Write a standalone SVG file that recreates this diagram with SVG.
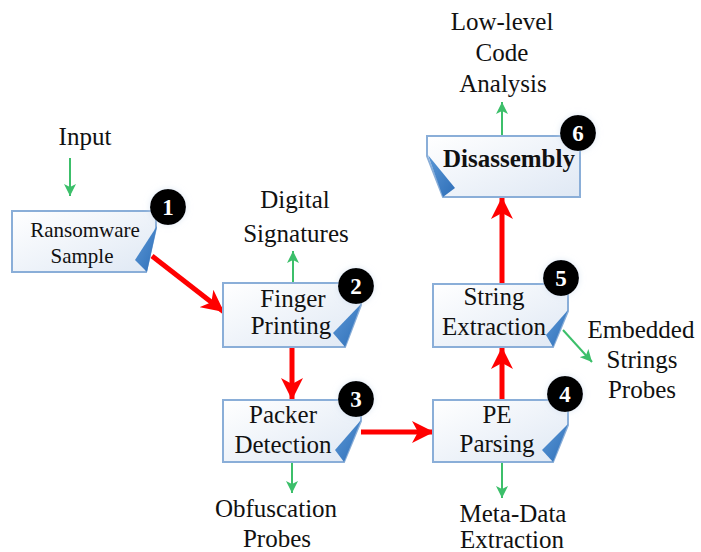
<svg xmlns="http://www.w3.org/2000/svg" width="701" height="552" viewBox="0 0 701 552">
<style>
.box{fill:url(#bg);stroke:#8aaed8;stroke-width:2}
.fold{fill:url(#fg)}
.t{font-family:"Liberation Serif","DejaVu Serif","Times New Roman",serif;font-size:25px;fill:#111;text-anchor:middle}
.b{font-weight:bold}
.num{font-family:"Liberation Serif","DejaVu Serif","Times New Roman",serif;font-size:23px;font-weight:bold;fill:#fff;text-anchor:middle}
.badge{fill:#000}
.red{stroke:#ff0000;stroke-width:5;fill:none}
.grn{stroke:#3cbf6a;stroke-width:2;fill:none}
</style>
<defs>
<linearGradient id="bg" x1="0" y1="0" x2="1" y2="1">
<stop offset="0" stop-color="#ffffff"/>
<stop offset="1" stop-color="#dfe8f4"/>
</linearGradient>
<linearGradient id="fg" x1="0" y1="0" x2="1" y2="1">
<stop offset="0" stop-color="#5a97d6"/>
<stop offset="1" stop-color="#2f6fb8"/>
</linearGradient>
<filter id="glow" x="-50%" y="-50%" width="200%" height="200%">
<feGaussianBlur in="SourceAlpha" stdDeviation="3"/>
<feColorMatrix values="0 0 0 0 0.6 0 0 0 0 0.7 0 0 0 0 0.85 0 0 0 0.6 0"/>
<feMerge><feMergeNode/><feMergeNode in="SourceGraphic"/></feMerge>
</filter>
<marker id="rh" markerUnits="userSpaceOnUse" markerWidth="26" markerHeight="24" refX="22" refY="12" orient="auto">
<path d="M0,1 L22,12 L0,23 L6,12 Z" fill="#ff0000"/>
</marker>
<marker id="gh" markerUnits="userSpaceOnUse" markerWidth="14" markerHeight="12" refX="12" refY="6" orient="auto">
<path d="M0,0 L12,6 L0,12 L3,6 Z" fill="#3cbf6a"/>
</marker>
</defs>

<g id="connectors">
<line class="grn" x1="70" y1="158" x2="70" y2="196" marker-end="url(#gh)"/>
<line class="grn" x1="293" y1="283" x2="293" y2="251" marker-end="url(#gh)"/>
<line class="grn" x1="292" y1="463" x2="292" y2="493" marker-end="url(#gh)"/>
<line class="grn" x1="502" y1="463" x2="502" y2="498" marker-end="url(#gh)"/>
<line class="grn" x1="563" y1="330" x2="592" y2="362" marker-end="url(#gh)"/>
<line class="grn" x1="502" y1="136" x2="502" y2="102" marker-end="url(#gh)"/>
<line class="red" x1="152" y1="256" x2="224" y2="312" marker-end="url(#rh)"/>
<line class="red" x1="292" y1="348" x2="292" y2="400" marker-end="url(#rh)"/>
<line class="red" x1="361" y1="432" x2="434" y2="432" marker-end="url(#rh)"/>
<line class="red" x1="502" y1="400" x2="502" y2="347" marker-end="url(#rh)"/>
<line class="red" x1="502" y1="284" x2="502" y2="197" marker-end="url(#rh)"/>
</g>

<g id="labels">
<text class="t" x="85" y="145">Input</text>
<text class="t" x="295" y="208">Digital</text>
<text class="t" x="296" y="242">Signatures</text>
<text class="t" x="276" y="517">Obfuscation</text>
<text class="t" x="277" y="547">Probes</text>
<text class="t" x="513" y="522">Meta-Data</text>
<text class="t" x="512" y="548">Extraction</text>
<text class="t" x="641" y="338">Embedded</text>
<text class="t" x="642" y="368">Strings</text>
<text class="t" x="642" y="398">Probes</text>
<text class="t" x="502" y="30">Low-level</text>
<text class="t" x="502" y="61">Code</text>
<text class="t" x="503" y="92">Analysis</text>
</g>

<g id="n1">
<path class="box" d="M12,211 H156 V228 L146,272 H12 Z"/>
<path class="fold" d="M157,226 L135,260 L147,272 Z"/>
<text class="t" x="85" y="237" style="font-size:21px">Ransomware</text>
<text class="t" x="82" y="263" style="font-size:21px">Sample</text>
<circle class="badge" cx="168" cy="207" r="18" filter="url(#glow)"/>
<text class="num" x="168" y="215">1</text>
</g>

<g id="n2">
<path class="box" d="M223,283 H361 V305 L345,347 H223 Z"/>
<path class="fold" d="M361,304 L333,333 L345,347 Z"/>
<text class="t" x="293" y="307">Finger</text>
<text class="t" x="291" y="334">Printing</text>
<circle class="badge" cx="356" cy="286" r="18" filter="url(#glow)"/>
<text class="num" x="356" y="294">2</text>
</g>

<g id="n3">
<path class="box" d="M223,400 H361 V421 L344,462 H223 Z"/>
<path class="fold" d="M361,420 L335,450 L344,462 Z"/>
<text class="t" x="283" y="423">Packer</text>
<text class="t" x="283" y="453">Detection</text>
<circle class="badge" cx="356" cy="399" r="18" filter="url(#glow)"/>
<text class="num" x="356" y="407">3</text>
</g>

<g id="n4">
<path class="box" d="M433,400 H568 V425 L553,462 H433 Z"/>
<path class="fold" d="M568,424 L542,450 L553,462 Z"/>
<text class="t" x="497" y="423">PE</text>
<text class="t" x="497" y="452">Parsing</text>
<circle class="badge" cx="565" cy="394" r="18" filter="url(#glow)"/>
<text class="num" x="565" y="402">4</text>
</g>

<g id="n5">
<path class="box" d="M433,284 H568 V311 L553,347 H433 Z"/>
<path class="fold" d="M568,310 L546,335 L553,347 Z"/>
<text class="t" x="494" y="305">String</text>
<text class="t" x="494" y="335">Extraction</text>
<circle class="badge" cx="561" cy="278" r="18" filter="url(#glow)"/>
<text class="num" x="561" y="286">5</text>
</g>

<g id="n6">
<path class="box" d="M427,136 H580 V197 H443 L427,156 Z"/>
<path class="fold" d="M428,155 L455,188 L443,197 Z"/>
<text class="t b" x="509" y="167">Disassembly</text>
<circle class="badge" cx="578" cy="133" r="18" filter="url(#glow)"/>
<text class="num" x="578" y="141">6</text>
</g>
</svg>
